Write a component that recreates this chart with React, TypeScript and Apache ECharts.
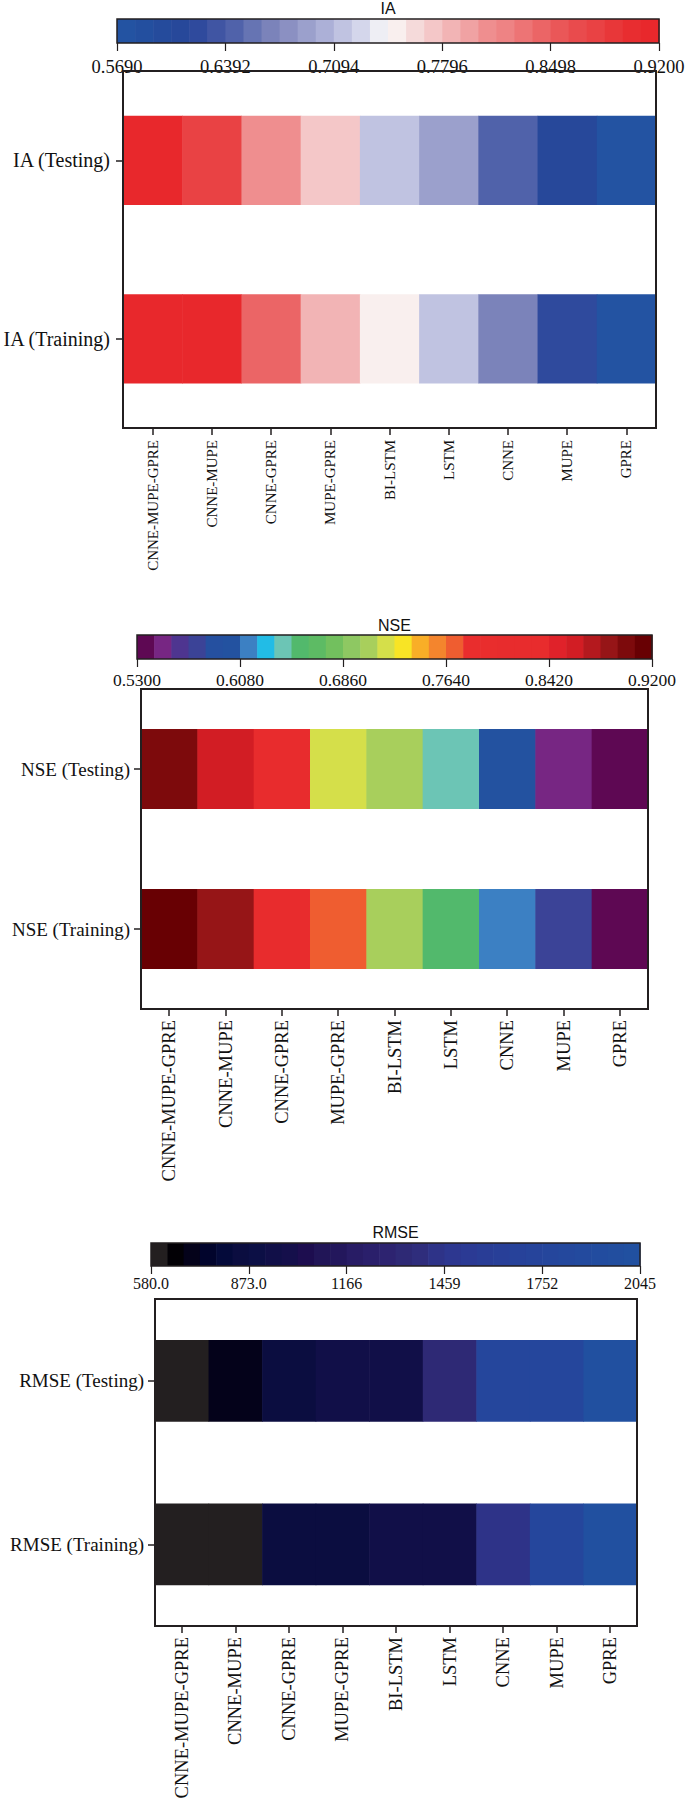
import React, { useEffect, useRef } from 'react';
import * as echarts from 'echarts';

// ---------- data ----------
const models = ['CNNE-MUPE-GPRE', 'CNNE-MUPE', 'CNNE-GPRE', 'MUPE-GPRE', 'BI-LSTM', 'LSTM', 'CNNE', 'MUPE', 'GPRE'];

const iaRows = ['IA (Testing)', 'IA (Training)'];
const iaTesting = [0.915, 0.879, 0.809, 0.774, 0.715, 0.692, 0.645, 0.61, 0.575];
const iaTraining = [0.918, 0.912, 0.848, 0.785, 0.745, 0.715, 0.668, 0.622, 0.574];
const iaRange = [0.569, 0.92];
const iaTicks = [0.569, 0.6392, 0.7094, 0.7796, 0.8498, 0.92];

const nseRows = ['NSE (Testing)', 'NSE (Training)'];
const nseTesting = [0.895, 0.862, 0.815, 0.718, 0.705, 0.64, 0.6, 0.549, 0.536];
const nseTraining = [0.914, 0.888, 0.822, 0.771, 0.707, 0.653, 0.614, 0.575, 0.535];
const nseRange = [0.53, 0.92];
const nseTicks = [0.53, 0.608, 0.686, 0.764, 0.842, 0.92];

const rmseRows = ['RMSE (Testing)', 'RMSE (Training)'];
const rmseTesting = [605, 700, 850, 945, 960, 1337, 1770, 1790, 2020];
const rmseTraining = [600, 610, 850, 870, 950, 965, 1440, 1760, 2030];
const rmseRange = [580, 2045];
const rmseTicks = [580, 873, 1166, 1459, 1752, 2045];

// ---------- colour maps (discrete, 30 steps) ----------
const iaPalette = [
  '#2353a2', '#234f9f', '#254b9c', '#27489a', '#2f4a9d', '#4055a3', '#5062aa', '#6674b3', '#7b83ba', '#8b90c2',
  '#9ba0cc', '#acb0d7', '#c0c3e1', '#d4d6eb', '#eeeef4', '#f9efee', '#f5dada', '#f4c7c8', '#f2b4b5', '#f0a2a3',
  '#ef8e8f', '#ee8384', '#ed7475', '#eb6566', '#ea5758', '#e94b4d', '#e94244', '#e83739', '#e82d30', '#e8282c',
];
const nsePalette = [
  '#5e0853', '#772683', '#4e3590', '#3b4397', '#2550a0', '#2352a0', '#3c80c3', '#22bce6', '#6cc5b5', '#52b96c',
  '#5dbb64', '#72c05e', '#8ec862', '#a8cf5c', '#d5df4a', '#f8e425', '#f9ae27', '#f4852d', '#ef5d30', '#e92d2d',
  '#e92d2d', '#e82c2d', '#e82c2d', '#e82c2d', '#e0222a', '#d21d24', '#b4191e', '#961517', '#7d0a0c', '#680003',
];
const rmsePalette = [
  '#231f20', '#020005', '#04021a', '#01042c', '#040a3a', '#0b0d40', '#0c0f45', '#110f48', '#150f4b', '#1d0d4f',
  '#211557', '#23175c', '#281c65', '#2a1f6b', '#2d2370', '#2e2975', '#2f2d7c', '#2e3388', '#2d3790', '#2b3a94',
  '#293d96', '#283f98', '#27429a', '#26449b', '#25469c', '#24489d', '#234a9e', '#224c9f', '#224e9f', '#2150a0',
];

const SERIF = "'Liberation Serif', 'Times New Roman', serif";
const SANS = "'Liberation Sans', Arial, sans-serif";
const INK = '#231f20';

type Panel = {
  title: string;
  rows: string[];
  testing: number[];
  training: number[];
  range: number[];
  ticks: number[];
  palette: string[];
  cb: { l: number; r: number; t: number; b: number };
  box: { l: number; r: number; t: number; b: number };
  titleY: number;
  cbFont: number;
  cbMargin: number;
  yFont: number;
  yMargin: number;
  xFont: number;
  xMargin: number;
};

const panels: Panel[] = [
  {
    title: 'IA', rows: iaRows, testing: iaTesting, training: iaTraining, range: iaRange, ticks: iaTicks, palette: iaPalette,
    cb: { l: 117, r: 659, t: 19, b: 43 }, box: { l: 123, r: 656, t: 71, b: 428 }, titleY: 8,
    cbFont: 18.5, cbMargin: 14, yFont: 20, yMargin: 13, xFont: 15, xMargin: 12,
  },
  {
    title: 'NSE', rows: nseRows, testing: nseTesting, training: nseTraining, range: nseRange, ticks: nseTicks, palette: nsePalette,
    cb: { l: 137, r: 652, t: 635, b: 659 }, box: { l: 141, r: 648, t: 689, b: 1009 }, titleY: 625,
    cbFont: 17.5, cbMargin: 12, yFont: 19, yMargin: 11, xFont: 18.5, xMargin: 11,
  },
  {
    title: 'RMSE', rows: rmseRows, testing: rmseTesting, training: rmseTraining, range: rmseRange, ticks: rmseTicks, palette: rmsePalette,
    cb: { l: 151, r: 640, t: 1243, b: 1266 }, box: { l: 155, r: 637, t: 1299, b: 1626 }, titleY: 1232,
    cbFont: 16, cbMargin: 9, yFont: 19, yMargin: 11, xFont: 18.5, xMargin: 11,
  },
];

function colorFor(v: number, range: number[], palette: string[]) {
  const n = palette.length;
  const step = (range[1] - range[0]) / n;
  const i = Math.min(n - 1, Math.max(0, Math.floor((v - range[0]) / step + 1e-9)));
  return palette[i];
}

function buildOption() {
  const grid: any[] = [];
  const xAxis: any[] = [];
  const yAxis: any[] = [];
  const series: any[] = [];
  const graphic: any[] = [];

  panels.forEach((p) => {
    const n = p.palette.length;
    const step = (p.range[1] - p.range[0]) / n;

    // colour bar grid
    const cbIdx = grid.length;
    grid.push({
      left: p.cb.l, top: p.cb.t, width: p.cb.r - p.cb.l, height: p.cb.b - p.cb.t,
      show: true, borderColor: INK, borderWidth: 1.5, backgroundColor: 'transparent', z: 10,
      containLabel: false, outerBoundsMode: 'none',
    });
    xAxis.push({
      type: 'value', gridIndex: cbIdx, min: p.range[0], max: p.range[1], position: 'bottom',
      splitLine: { show: false }, axisLine: { show: false },
      axisTick: { show: true, length: 8, customValues: p.ticks, lineStyle: { color: INK, width: 1.2 } },
      axisLabel: {
        customValues: p.ticks, showMinLabel: true, showMaxLabel: true, hideOverlap: false,
        margin: p.cbMargin, fontFamily: SERIF, fontSize: p.cbFont, color: '#111',
        formatter: (v: number) => Number(v).toPrecision(4),
      },
    });
    yAxis.push({ type: 'value', gridIndex: cbIdx, min: 0, max: 1, show: false });
    series.push({
      type: 'custom', xAxisIndex: cbIdx, yAxisIndex: cbIdx, silent: true,
      data: p.palette.map((_, i) => [i]),
      encode: { x: 0 },
      renderItem: (params: any, api: any) => {
        const i = api.value(0);
        const a = api.coord([p.range[0] + i * step, 1]);
        const b = api.coord([p.range[0] + (i + 1) * step, 0]);
        return {
          type: 'rect',
          shape: { x: a[0], y: a[1], width: b[0] - a[0] + 0.6, height: b[1] - a[1] },
          style: { fill: p.palette[i] },
        };
      },
    });
    graphic.push({
      type: 'text', x: (p.cb.l + p.cb.r) / 2, y: p.titleY,
      style: { text: p.title, align: 'center', verticalAlign: 'middle', font: `16px ${SANS}`, fill: '#111' },
    });

    // heat-strip grid
    const gi = grid.length;
    grid.push({
      left: p.box.l, top: p.box.t, width: p.box.r - p.box.l, height: p.box.b - p.box.t,
      show: true, borderColor: INK, borderWidth: 2, backgroundColor: 'transparent', z: 10,
      containLabel: false, outerBoundsMode: 'none',
    });
    xAxis.push({
      type: 'category', gridIndex: gi, data: models, boundaryGap: true, position: 'bottom',
      axisLine: { show: true, lineStyle: { color: INK, width: 2 } },
      axisTick: { show: true, alignWithLabel: true, length: 7, lineStyle: { color: INK, width: 1.5 } },
      axisLabel: { rotate: 90, interval: 0, margin: p.xMargin, fontFamily: SERIF, fontSize: p.xFont, color: '#111' },
      splitLine: { show: false },
    });
    yAxis.push({
      type: 'category', gridIndex: gi, data: p.rows, inverse: true, boundaryGap: true,
      axisLine: { show: true, lineStyle: { color: INK, width: 2 } },
      axisTick: { show: true, alignWithLabel: true, length: 7, lineStyle: { color: INK, width: 1.5 } },
      axisLabel: { margin: p.yMargin, fontFamily: SERIF, fontSize: p.yFont, color: '#111' },
      splitLine: { show: false },
    });
    const cells: any[] = [];
    p.testing.forEach((v, i) => cells.push([i, 0, v]));
    p.training.forEach((v, i) => cells.push([i, 1, v]));
    series.push({
      type: 'custom', xAxisIndex: gi, yAxisIndex: gi, silent: true,
      data: cells,
      encode: { x: 0, y: 1 },
      renderItem: (params: any, api: any) => {
        const c = api.coord([api.value(0), api.value(1)]);
        const s = api.size([1, 1]);
        return {
          type: 'rect',
          shape: { x: c[0] - s[0] / 2, y: c[1] - s[1] * 0.25, width: s[0] + 0.6, height: s[1] * 0.5 },
          style: { fill: colorFor(api.value(2), p.range, p.palette) },
        };
      },
    });
  });

  return { animation: false, backgroundColor: '#ffffff', grid, xAxis, yAxis, series, graphic };
}

export default function App() {
  const ref = useRef<HTMLDivElement>(null);
  useEffect(() => {
    if (!ref.current) return;
    const chart = echarts.init(ref.current, null, { renderer: 'svg' });
    chart.setOption(buildOption() as any);
    return () => chart.dispose();
  }, []);
  return (
    <div
      ref={ref}
      style={{ position: 'absolute', left: 0, top: 0, width: 685, height: 1799, background: '#fff' }}
    />
  );
}
